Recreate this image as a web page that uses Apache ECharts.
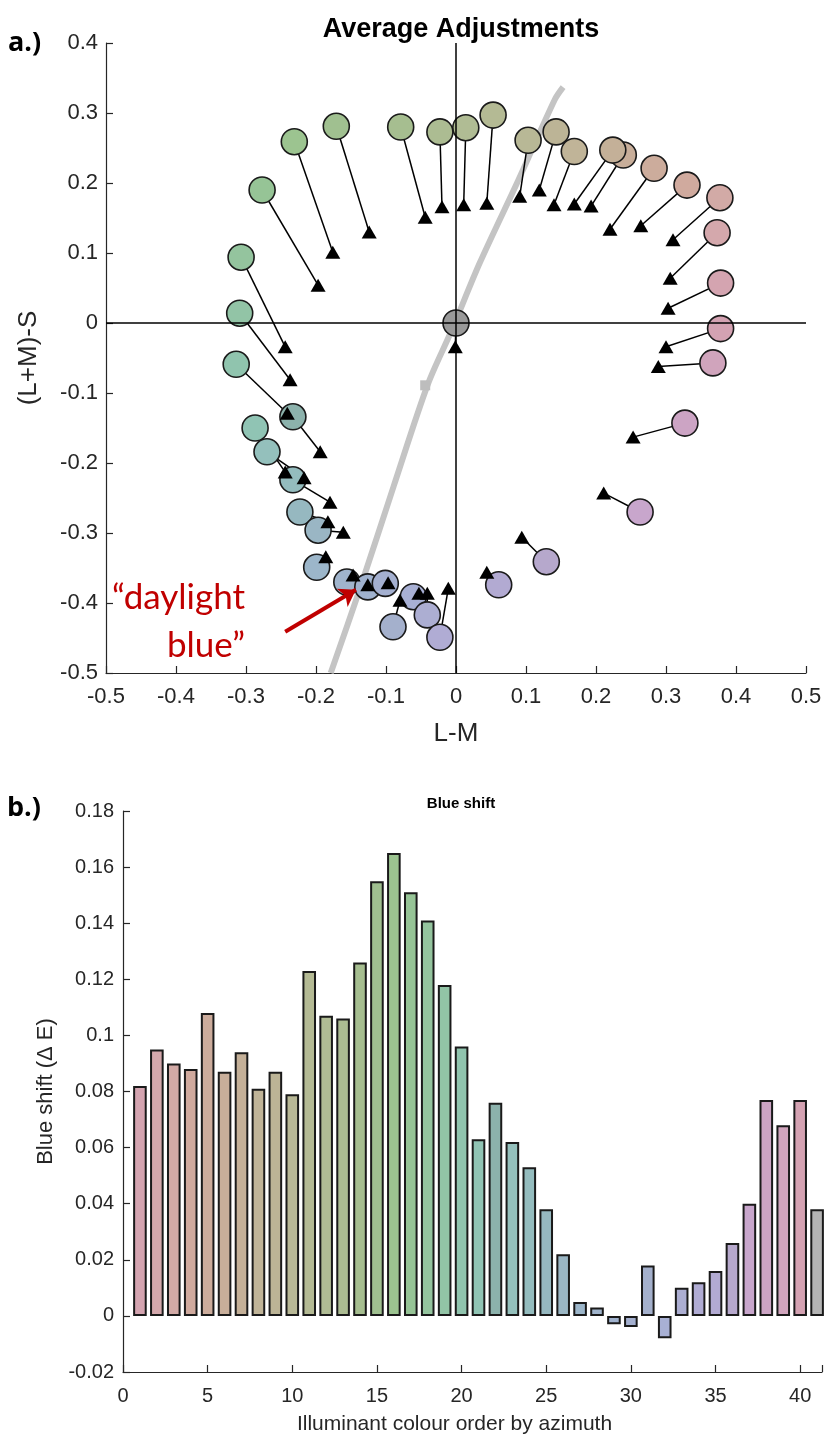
<!DOCTYPE html>
<html><head><meta charset="utf-8">
<script src="https://cdn.jsdelivr.net/npm/echarts@6/dist/echarts.min.js"></script>
<style>html,body{margin:0;padding:0;background:#fff}#c{width:825px;height:1439px}</style>
</head><body><div id="c"></div>
<script>
// ---- data (index = illuminant order by azimuth; last = neutral/grey) ----
const palette = ['#d4a4b0','#d4a8ac','#d2aaa6','#d0aa9e','#ccac9c','#c8ae9a','#c4b098','#c0b498','#bcb496','#b8b896',
  '#b4ba94','#b0bc94','#acbc92','#a6be90','#a0c090','#9cc490','#96c496','#94c49e','#92c4a6','#90c4ae',
  '#90c4b4','#8cb2ac','#94c0bc','#94bcbe','#96b8c0','#9ab6c4','#9cb6ca','#a0b4cc','#a0b2ce','#a4b0d0',
  '#a4b0cc','#a8b0d4','#acaed2','#b0acd4','#b2aad2','#b6a8cc','#c8a6cc','#cca4c4','#d0a4bc','#d4a2b2','#b4b4b4'];
const circleX = [0.378,0.373,0.377,0.330,0.283,0.239,0.224,0.169,0.143,0.103,0.053,0.014,-0.023,-0.079,-0.171,-0.231,-0.277,-0.307,-0.309,-0.314,
  -0.287,-0.233,-0.270,-0.233,-0.223,-0.197,-0.199,-0.156,-0.126,-0.101,-0.090,-0.061,-0.041,-0.023,0.061,0.129,0.263,0.327,0.367,0.378,0];
const circleY = [0.057,0.129,0.179,0.197,0.221,0.240,0.247,0.245,0.273,0.261,0.297,0.279,0.273,0.280,0.281,0.259,0.190,0.094,0.014,-0.059,
  -0.150,-0.134,-0.184,-0.224,-0.270,-0.296,-0.349,-0.370,-0.377,-0.372,-0.434,-0.391,-0.417,-0.449,-0.374,-0.341,-0.270,-0.143,-0.057,-0.008,0];
const adjX = [0.303,0.306,0.310,0.264,0.220,0.193,0.169,0.140,0.119,0.091,0.044,0.011,-0.020,-0.044,-0.124,-0.176,-0.197,-0.244,-0.237,-0.241,
  -0.244,-0.194,-0.217,-0.180,-0.183,-0.161,-0.186,-0.147,-0.126,-0.097,-0.080,-0.053,-0.041,-0.011,0.044,0.094,0.211,0.253,0.289,0.300,-0.001];
const adjY = [0.021,0.064,0.119,0.139,0.134,0.167,0.170,0.169,0.190,0.181,0.171,0.169,0.166,0.151,0.130,0.101,0.054,-0.034,-0.081,-0.129,
  -0.213,-0.184,-0.221,-0.256,-0.284,-0.299,-0.334,-0.360,-0.374,-0.371,-0.396,-0.386,-0.386,-0.379,-0.356,-0.306,-0.243,-0.163,-0.062,-0.034,-0.034];
const locusX = [-0.179,-0.137,-0.089,-0.040,-0.006,0.034,0.089,0.141,0.153];
const locusY = [-0.500,-0.379,-0.233,-0.087,-0.010,0.086,0.204,0.319,0.337];
const locusMarker = [-0.044,-0.089];
const arrowFrom = [-0.244,-0.441], arrowTo = [-0.143,-0.381];
const barOrder = Array.from({length:41},(_,i)=>i+1);
const barValues = [0.082,0.095,0.090,0.088,0.108,0.087,0.094,0.081,0.087,0.079,
  0.123,0.107,0.106,0.126,0.155,0.165,0.151,0.141,0.118,0.096,
  0.063,0.076,0.062,0.053,0.038,0.022,0.005,0.003,-0.003,-0.004,
  0.018,-0.008,0.010,0.012,0.016,0.026,0.040,0.077,0.068,0.077,0.038];
const xTicks1 = {min:-0.5,max:0.5,interval:0.1};
const yTicks1 = {min:-0.5,max:0.4,interval:0.1};
const xTicks2 = {min:0,max:41.29,interval:5};
const yTicks2 = {min:-0.02,max:0.18,interval:0.02};

// ---- chart ----
const FONT = "'Liberation Sans',Arial,sans-serif";
const AX = '#262626';
const circleColor = i => i === 40 ? '#999999' : palette[i];
const chart = echarts.init(document.getElementById('c'), null, {renderer:'canvas'});
function axisCommon(extra, nfs){
  return Object.assign({
    type:'value', splitLine:{show:false},
    axisLine:{show:true,onZero:false,lineStyle:{color:AX,width:1.2}},
    axisTick:{show:true,inside:true,length:7,lineStyle:{color:AX,width:1.2}},
    nameLocation:'middle', nameTextStyle:{color:AX,fontFamily:FONT,fontSize:nfs}
  }, extra);
}
const lab = (fs, margin, extra) => Object.assign({color:AX,fontFamily:FONT,fontSize:fs,margin:margin}, extra||{});
chart.setOption({
  animation:false,
  backgroundColor:'#fff',
  title:[
    {text:'Average Adjustments',left:456,top:11,textAlign:'center',textStyle:{fontFamily:FONT,fontWeight:'bold',fontSize:27,color:'#000'}},
    {text:'Blue shift',left:456,top:791,textAlign:'center',textStyle:{fontFamily:FONT,fontWeight:'bold',fontSize:15,color:'#000'}}
  ],
  grid:[
    {left:106,top:43,width:700,height:630},
    {left:123,top:811,width:702,height:561}
  ],
  xAxis:[
    axisCommon(Object.assign({gridIndex:0,name:'L-M',nameGap:48,axisLabel:lab(22,13)},xTicks1),26),
    axisCommon(Object.assign({gridIndex:1,name:'Illuminant colour order by azimuth',nameGap:42,
      nameTextStyle:{color:AX,fontFamily:FONT,fontSize:21,padding:[0,36,0,0]},
      axisLabel:lab(20,14,{formatter:v=>(Math.abs(v%5)<1e-9?String(v):'')})},xTicks2),21)
  ],
  yAxis:[
    axisCommon(Object.assign({gridIndex:0,name:'(L+M)-S',nameGap:64,axisLabel:lab(22,8)},yTicks1),26),
    axisCommon(Object.assign({gridIndex:1,name:'Blue shift (\u0394 E)',nameGap:66,axisLabel:lab(20,9)},yTicks2),22)
  ],
  graphic:[
    {type:'text',left:8,top:30,style:{text:'a.)',font:"bold 27px 'Open Sans',sans-serif",fill:'#000'}},
    {type:'text',left:7,top:795,style:{text:'b.)',font:"bold 27px 'Open Sans',sans-serif",fill:'#000'}},
    {type:'text',right:580,top:580,style:{text:'\u201cdaylight',font:"35px Lato,'Open Sans',sans-serif",fill:'#c00000'}},
    {type:'text',right:580,top:628,style:{text:'blue\u201d',font:"35px Lato,'Open Sans',sans-serif",fill:'#c00000'}}
  ],
  series:[
    {type:'line',xAxisIndex:0,yAxisIndex:0,z:1,smooth:0.3,symbol:'none',silent:true,
      data:locusX.map((x,i)=>[x,locusY[i]]),
      lineStyle:{color:'#c4c4c4',width:6},
      markLine:{silent:true,symbol:'none',label:{show:false},lineStyle:{color:'#000',width:1.5,type:'solid'},
        data:[{xAxis:0},{yAxis:0}]}},
    {type:'scatter',xAxisIndex:0,yAxisIndex:0,z:1,symbol:'rect',symbolSize:10,silent:true,
      itemStyle:{color:'#bdbdbd',opacity:1},data:[locusMarker]},
    {type:'custom',xAxisIndex:0,yAxisIndex:0,z:3,silent:true,
      encode:{x:[0,2],y:[1,3]},
      data:circleX.map((x,i)=>[x,circleY[i],adjX[i],adjY[i]]),
      renderItem:(params,api)=>{
        const p1 = api.coord([api.value(0),api.value(1)]);
        const p2 = api.coord([api.value(2),api.value(3)]);
        return {type:'line',shape:{x1:p1[0],y1:p1[1],x2:p2[0],y2:p2[1]},style:{stroke:'#000',lineWidth:1.5}};
      }},
    {type:'lines',coordinateSystem:'cartesian2d',xAxisIndex:0,yAxisIndex:0,z:6,silent:true,
      symbol:['none','arrow'],symbolSize:16,
      lineStyle:{color:'#c00000',width:4,opacity:1},
      data:[{coords:[arrowFrom,arrowTo]}]},
    {type:'scatter',xAxisIndex:0,yAxisIndex:0,z:4,symbol:'circle',symbolSize:26,silent:true,
      data:circleX.map((x,i)=>({value:[x,circleY[i]],itemStyle:{color:circleColor(i),opacity:1,borderColor:'#1a1a1a',borderWidth:1.6}}))},
    {type:'scatter',xAxisIndex:0,yAxisIndex:0,z:5,symbol:'triangle',symbolSize:[15,13],silent:true,
      itemStyle:{color:'#000',opacity:1},data:adjX.map((x,i)=>[x,adjY[i]])},
    {type:'bar',xAxisIndex:1,yAxisIndex:1,barWidth:13.6,silent:true,
      data:barOrder.map((k,i)=>({value:[k,barValues[i]],itemStyle:{color:palette[i],borderColor:'#1a1a1a',borderWidth:2}}))}
  ]
});
</script></body></html>
